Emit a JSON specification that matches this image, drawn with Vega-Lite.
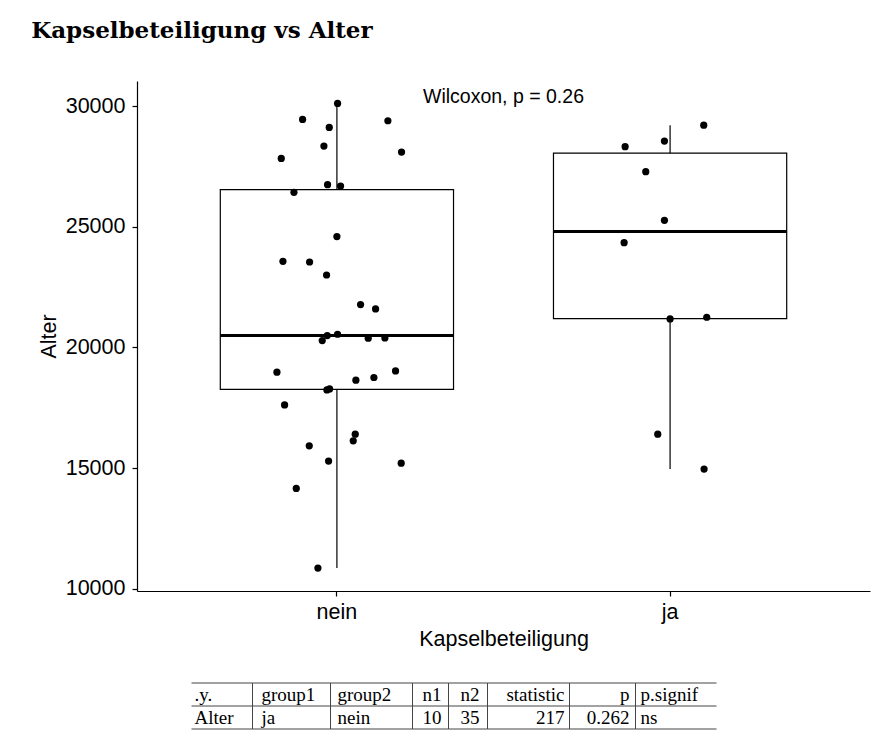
{
  "$schema": "https://vega.github.io/schema/vega-lite/v6.json",
  "padding": {"left": 31, "top": 20, "right": 5, "bottom": 2},
  "background": "white",
  "title": {"text": "Kapselbeteiligung vs Alter", "anchor": "start", "frame": "bounds", "font": "DejaVu Serif", "fontSize": 23, "fontWeight": "bold", "color": "black", "offset": 38, "dx": -7},
  "datasets": {
    "points": [
      {"Kapselbeteiligung": "nein", "Alter": 30113, "jitter": 0.002},
      {"Kapselbeteiligung": "nein", "Alter": 29450, "jitter": -0.103},
      {"Kapselbeteiligung": "nein", "Alter": 29396, "jitter": 0.153},
      {"Kapselbeteiligung": "nein", "Alter": 29119, "jitter": -0.023},
      {"Kapselbeteiligung": "nein", "Alter": 28345, "jitter": -0.039},
      {"Kapselbeteiligung": "nein", "Alter": 27835, "jitter": -0.167},
      {"Kapselbeteiligung": "nein", "Alter": 28096, "jitter": 0.194},
      {"Kapselbeteiligung": "nein", "Alter": 26746, "jitter": -0.028},
      {"Kapselbeteiligung": "nein", "Alter": 26688, "jitter": 0.011},
      {"Kapselbeteiligung": "nein", "Alter": 26427, "jitter": -0.129},
      {"Kapselbeteiligung": "nein", "Alter": 24593, "jitter": 0.0},
      {"Kapselbeteiligung": "nein", "Alter": 23570, "jitter": -0.162},
      {"Kapselbeteiligung": "nein", "Alter": 23541, "jitter": -0.082},
      {"Kapselbeteiligung": "nein", "Alter": 23003, "jitter": -0.031},
      {"Kapselbeteiligung": "nein", "Alter": 21777, "jitter": 0.071},
      {"Kapselbeteiligung": "nein", "Alter": 21595, "jitter": 0.116},
      {"Kapselbeteiligung": "nein", "Alter": 20493, "jitter": -0.029},
      {"Kapselbeteiligung": "nein", "Alter": 20547, "jitter": 0.002},
      {"Kapselbeteiligung": "nein", "Alter": 20286, "jitter": -0.044},
      {"Kapselbeteiligung": "nein", "Alter": 20381, "jitter": 0.094},
      {"Kapselbeteiligung": "nein", "Alter": 20395, "jitter": 0.144},
      {"Kapselbeteiligung": "nein", "Alter": 18973, "jitter": -0.18},
      {"Kapselbeteiligung": "nein", "Alter": 19027, "jitter": 0.176},
      {"Kapselbeteiligung": "nein", "Alter": 18642, "jitter": 0.057},
      {"Kapselbeteiligung": "nein", "Alter": 18754, "jitter": 0.111},
      {"Kapselbeteiligung": "nein", "Alter": 18241, "jitter": -0.03},
      {"Kapselbeteiligung": "nein", "Alter": 18282, "jitter": -0.022},
      {"Kapselbeteiligung": "nein", "Alter": 17619, "jitter": -0.157},
      {"Kapselbeteiligung": "nein", "Alter": 16406, "jitter": 0.055},
      {"Kapselbeteiligung": "nein", "Alter": 16129, "jitter": 0.049},
      {"Kapselbeteiligung": "nein", "Alter": 15922, "jitter": -0.083},
      {"Kapselbeteiligung": "nein", "Alter": 15288, "jitter": -0.025},
      {"Kapselbeteiligung": "nein", "Alter": 15205, "jitter": 0.193},
      {"Kapselbeteiligung": "nein", "Alter": 14158, "jitter": -0.122},
      {"Kapselbeteiligung": "nein", "Alter": 10857, "jitter": -0.057},
      {"Kapselbeteiligung": "ja", "Alter": 29214, "jitter": 0.101},
      {"Kapselbeteiligung": "ja", "Alter": 28551, "jitter": -0.017},
      {"Kapselbeteiligung": "ja", "Alter": 28320, "jitter": -0.135},
      {"Kapselbeteiligung": "ja", "Alter": 27284, "jitter": -0.073},
      {"Kapselbeteiligung": "ja", "Alter": 25268, "jitter": -0.017},
      {"Kapselbeteiligung": "ja", "Alter": 24344, "jitter": -0.138},
      {"Kapselbeteiligung": "ja", "Alter": 21181, "jitter": 0.0},
      {"Kapselbeteiligung": "ja", "Alter": 21251, "jitter": 0.11},
      {"Kapselbeteiligung": "ja", "Alter": 16406, "jitter": -0.037},
      {"Kapselbeteiligung": "ja", "Alter": 14957, "jitter": 0.102}
    ],
    "boxes": [
      {"Kapselbeteiligung": "nein", "lower": 10857, "q1": 18262, "median": 20493, "q3": 26540, "upper": 30113},
      {"Kapselbeteiligung": "ja", "lower": 14957, "q1": 21198, "median": 24806, "q3": 28050, "upper": 29214}
    ],
    "table": [
      {"row": "header", "col": ".y.", "text": ".y."},
      {"row": "header", "col": "group1", "text": "group1"},
      {"row": "header", "col": "group2", "text": "group2"},
      {"row": "header", "col": "n1", "text": "n1"},
      {"row": "header", "col": "n2", "text": "n2"},
      {"row": "header", "col": "statistic", "text": "statistic"},
      {"row": "header", "col": "p", "text": "p"},
      {"row": "header", "col": "p.signif", "text": "p.signif"},
      {"row": "row", "col": ".y.", "text": "Alter"},
      {"row": "row", "col": "group1", "text": "ja"},
      {"row": "row", "col": "group2", "text": "nein"},
      {"row": "row", "col": "n1", "text": "10"},
      {"row": "row", "col": "n2", "text": "35"},
      {"row": "row", "col": "statistic", "text": "217"},
      {"row": "row", "col": "p", "text": "0.262"},
      {"row": "row", "col": "p.signif", "text": "ns"}
    ],
    "hlines": [{"line": "top"}, {"line": "mid"}, {"line": "bottom"}]
  },
  "vconcat": [
    {
      "width": 733,
      "height": 510,
      "layer": [
        {
          "data": {"name": "boxes"},
          "mark": {"type": "rule", "color": "black", "strokeWidth": 1.2},
          "encoding": {
            "x": {"field": "Kapselbeteiligung", "type": "nominal", "title": "Kapselbeteiligung", "scale": {"type": "band", "domain": ["nein", "ja"], "paddingInner": 0.3, "paddingOuter": 0.25}},
            "y": {"field": "lower", "type": "quantitative", "title": "Alter", "scale": {"domain": [9905, 31043], "nice": false, "zero": false}, "axis": {"values": [10000, 15000, 20000, 25000, 30000], "format": "d"}},
            "y2": {"field": "upper"}
          }
        },
        {
          "data": {"name": "boxes"},
          "mark": {"type": "bar", "fill": "white", "stroke": "black", "strokeWidth": 1.2, "width": {"expr": "bandwidth('concat_0_x')"}},
          "encoding": {
            "x": {"field": "Kapselbeteiligung", "type": "nominal", "title": "Kapselbeteiligung", "scale": {"type": "band", "domain": ["nein", "ja"], "paddingInner": 0.3, "paddingOuter": 0.25}},
            "y": {"field": "q1", "type": "quantitative", "title": "Alter"},
            "y2": {"field": "q3"}
          }
        },
        {
          "data": {"name": "boxes"},
          "mark": {"type": "bar", "fill": "black", "stroke": "black", "strokeWidth": 3, "width": {"expr": "bandwidth('concat_0_x')"}},
          "encoding": {
            "x": {"field": "Kapselbeteiligung", "type": "nominal", "title": "Kapselbeteiligung", "scale": {"type": "band", "domain": ["nein", "ja"], "paddingInner": 0.3, "paddingOuter": 0.25}},
            "y": {"field": "median", "type": "quantitative", "title": "Alter"},
            "y2": {"field": "median"}
          }
        },
        {
          "data": {"name": "points"},
          "mark": {"type": "circle", "color": "black", "size": 52, "opacity": 1},
          "encoding": {
            "x": {"field": "Kapselbeteiligung", "type": "nominal", "title": "Kapselbeteiligung", "scale": {"type": "band", "domain": ["nein", "ja"], "paddingInner": 0.3, "paddingOuter": 0.25}},
            "xOffset": {"field": "jitter", "type": "quantitative", "scale": {"domain": [-0.35, 0.35]}},
            "y": {"field": "Alter", "type": "quantitative", "title": "Alter"}
          }
        },
        {
          "data": {"values": [{"label": "Wilcoxon, p = 0.26", "Alter": 30360, "Kapselbeteiligung": "nein", "jitter": 0.5}]},
          "mark": {"type": "text", "font": "Liberation Sans", "fontSize": 19.5, "color": "black", "align": "center", "baseline": "middle"},
          "encoding": {
            "text": {"field": "label"},
            "x": {"field": "Kapselbeteiligung", "type": "nominal", "title": "Kapselbeteiligung", "scale": {"type": "band", "domain": ["nein", "ja"], "paddingInner": 0.3, "paddingOuter": 0.25}},
            "xOffset": {"field": "jitter", "type": "quantitative"},
            "y": {"field": "Alter", "type": "quantitative", "title": "Alter"}
          }
        }
      ]
    },
    {
      "hconcat": [
        {"width": 61, "height": 46, "data": {"name": "table"}, "transform": [{"filter": "datum.col === '.y.'"}], "layer": [
          {"mark": {"type": "text", "font": "Liberation Serif", "fontSize": 19, "color": "black", "align": "left", "baseline": "middle", "dx": 3},
           "encoding": {"x": {"field": "col", "type": "nominal", "bandPosition": 0, "axis": null, "scale": {"type": "band", "paddingInner": 0, "paddingOuter": 0}}, "y": {"field": "row", "type": "nominal", "axis": null, "scale": {"type": "point", "domain": ["top", "header", "mid", "row", "bottom"], "padding": 0}}, "text": {"field": "text"}}},
          {"data": {"name": "hlines"}, "mark": {"type": "rule", "color": "#444", "strokeWidth": 1}, "encoding": {"y": {"field": "line", "type": "nominal", "axis": null}}}
        ]},
        {"width": 78, "height": 46, "data": {"name": "table"}, "transform": [{"filter": "datum.col === 'group1'"}], "layer": [
          {"mark": {"type": "text", "font": "Liberation Serif", "fontSize": 19, "color": "black", "align": "left", "baseline": "middle", "dx": 9},
           "encoding": {"x": {"field": "col", "type": "nominal", "bandPosition": 0, "axis": null, "scale": {"type": "band", "paddingInner": 0, "paddingOuter": 0}}, "y": {"field": "row", "type": "nominal", "axis": null, "scale": {"type": "point", "domain": ["top", "header", "mid", "row", "bottom"], "padding": 0}}, "text": {"field": "text"}}},
          {"mark": {"type": "rule", "color": "#444", "strokeWidth": 1}, "encoding": {"x": {"field": "col", "type": "nominal", "bandPosition": 0, "axis": null}}},
          {"data": {"name": "hlines"}, "mark": {"type": "rule", "color": "#444", "strokeWidth": 1}, "encoding": {"y": {"field": "line", "type": "nominal", "axis": null}}}
        ]},
        {"width": 82, "height": 46, "data": {"name": "table"}, "transform": [{"filter": "datum.col === 'group2'"}], "layer": [
          {"mark": {"type": "text", "font": "Liberation Serif", "fontSize": 19, "color": "black", "align": "left", "baseline": "middle", "dx": 7},
           "encoding": {"x": {"field": "col", "type": "nominal", "bandPosition": 0, "axis": null, "scale": {"type": "band", "paddingInner": 0, "paddingOuter": 0}}, "y": {"field": "row", "type": "nominal", "axis": null, "scale": {"type": "point", "domain": ["top", "header", "mid", "row", "bottom"], "padding": 0}}, "text": {"field": "text"}}},
          {"mark": {"type": "rule", "color": "#444", "strokeWidth": 1}, "encoding": {"x": {"field": "col", "type": "nominal", "bandPosition": 0, "axis": null}}},
          {"data": {"name": "hlines"}, "mark": {"type": "rule", "color": "#444", "strokeWidth": 1}, "encoding": {"y": {"field": "line", "type": "nominal", "axis": null}}}
        ]},
        {"width": 36, "height": 46, "data": {"name": "table"}, "transform": [{"filter": "datum.col === 'n1'"}], "layer": [
          {"mark": {"type": "text", "font": "Liberation Serif", "fontSize": 19, "color": "black", "align": "right", "baseline": "middle", "dx": -7},
           "encoding": {"x": {"field": "col", "type": "nominal", "bandPosition": 1, "axis": null, "scale": {"type": "band", "paddingInner": 0, "paddingOuter": 0}}, "y": {"field": "row", "type": "nominal", "axis": null, "scale": {"type": "point", "domain": ["top", "header", "mid", "row", "bottom"], "padding": 0}}, "text": {"field": "text"}}},
          {"mark": {"type": "rule", "color": "#444", "strokeWidth": 1}, "encoding": {"x": {"field": "col", "type": "nominal", "bandPosition": 0, "axis": null}}},
          {"data": {"name": "hlines"}, "mark": {"type": "rule", "color": "#444", "strokeWidth": 1}, "encoding": {"y": {"field": "line", "type": "nominal", "axis": null}}}
        ]},
        {"width": 39, "height": 46, "data": {"name": "table"}, "transform": [{"filter": "datum.col === 'n2'"}], "layer": [
          {"mark": {"type": "text", "font": "Liberation Serif", "fontSize": 19, "color": "black", "align": "right", "baseline": "middle", "dx": -8},
           "encoding": {"x": {"field": "col", "type": "nominal", "bandPosition": 1, "axis": null, "scale": {"type": "band", "paddingInner": 0, "paddingOuter": 0}}, "y": {"field": "row", "type": "nominal", "axis": null, "scale": {"type": "point", "domain": ["top", "header", "mid", "row", "bottom"], "padding": 0}}, "text": {"field": "text"}}},
          {"mark": {"type": "rule", "color": "#444", "strokeWidth": 1}, "encoding": {"x": {"field": "col", "type": "nominal", "bandPosition": 0, "axis": null}}},
          {"data": {"name": "hlines"}, "mark": {"type": "rule", "color": "#444", "strokeWidth": 1}, "encoding": {"y": {"field": "line", "type": "nominal", "axis": null}}}
        ]},
        {"width": 82, "height": 46, "data": {"name": "table"}, "transform": [{"filter": "datum.col === 'statistic'"}], "layer": [
          {"mark": {"type": "text", "font": "Liberation Serif", "fontSize": 19, "color": "black", "align": "right", "baseline": "middle", "dx": -5},
           "encoding": {"x": {"field": "col", "type": "nominal", "bandPosition": 1, "axis": null, "scale": {"type": "band", "paddingInner": 0, "paddingOuter": 0}}, "y": {"field": "row", "type": "nominal", "axis": null, "scale": {"type": "point", "domain": ["top", "header", "mid", "row", "bottom"], "padding": 0}}, "text": {"field": "text"}}},
          {"mark": {"type": "rule", "color": "#444", "strokeWidth": 1}, "encoding": {"x": {"field": "col", "type": "nominal", "bandPosition": 0, "axis": null}}},
          {"data": {"name": "hlines"}, "mark": {"type": "rule", "color": "#444", "strokeWidth": 1}, "encoding": {"y": {"field": "line", "type": "nominal", "axis": null}}}
        ]},
        {"width": 66, "height": 46, "data": {"name": "table"}, "transform": [{"filter": "datum.col === 'p'"}], "layer": [
          {"mark": {"type": "text", "font": "Liberation Serif", "fontSize": 19, "color": "black", "align": "right", "baseline": "middle", "dx": -6},
           "encoding": {"x": {"field": "col", "type": "nominal", "bandPosition": 1, "axis": null, "scale": {"type": "band", "paddingInner": 0, "paddingOuter": 0}}, "y": {"field": "row", "type": "nominal", "axis": null, "scale": {"type": "point", "domain": ["top", "header", "mid", "row", "bottom"], "padding": 0}}, "text": {"field": "text"}}},
          {"mark": {"type": "rule", "color": "#444", "strokeWidth": 1}, "encoding": {"x": {"field": "col", "type": "nominal", "bandPosition": 0, "axis": null}}},
          {"data": {"name": "hlines"}, "mark": {"type": "rule", "color": "#444", "strokeWidth": 1}, "encoding": {"y": {"field": "line", "type": "nominal", "axis": null}}}
        ]},
        {"width": 81, "height": 46, "data": {"name": "table"}, "transform": [{"filter": "datum.col === 'p.signif'"}], "layer": [
          {"mark": {"type": "text", "font": "Liberation Serif", "fontSize": 19, "color": "black", "align": "left", "baseline": "middle", "dx": 5},
           "encoding": {"x": {"field": "col", "type": "nominal", "bandPosition": 0, "axis": null, "scale": {"type": "band", "paddingInner": 0, "paddingOuter": 0}}, "y": {"field": "row", "type": "nominal", "axis": null, "scale": {"type": "point", "domain": ["top", "header", "mid", "row", "bottom"], "padding": 0}}, "text": {"field": "text"}}},
          {"mark": {"type": "rule", "color": "#444", "strokeWidth": 1}, "encoding": {"x": {"field": "col", "type": "nominal", "bandPosition": 0, "axis": null}}},
          {"data": {"name": "hlines"}, "mark": {"type": "rule", "color": "#444", "strokeWidth": 1}, "encoding": {"y": {"field": "line", "type": "nominal", "axis": null}}}
        ]},
        {"width": 99, "height": 46, "data": {"values": []}, "mark": {"type": "point", "opacity": 0}}
      ],
      "spacing": 0,
      "bounds": "flush"
    }
  ],
  "spacing": 32,
  "center": true,
  "config": {
    "view": {"stroke": null},
    "font": "Liberation Sans",
    "axis": {"domainColor": "black", "domainWidth": 1.2, "tickColor": "black", "tickWidth": 1.2, "tickSize": 5, "labelColor": "black", "labelFontSize": 21.5, "labelFont": "Liberation Sans", "titleFont": "Liberation Sans", "titleFontSize": 21.5, "titleFontWeight": "normal", "titleColor": "black", "grid": false},
    "axisY": {"labelPadding": 7, "titlePadding": 5},
    "axisX": {"labelPadding": 5, "titlePadding": 6, "labelAngle": 0}
  }
}
